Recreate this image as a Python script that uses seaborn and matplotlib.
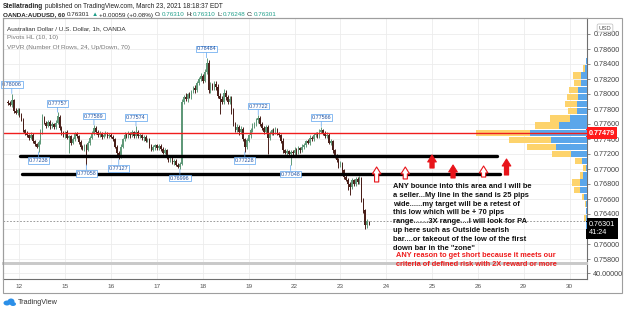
import numpy as np
import pandas as pd
import matplotlib
matplotlib.use("Agg")
import matplotlib.pyplot as plt
import seaborn as sns
from matplotlib.patches import Rectangle, Ellipse

# ---------------- data (prices in pips = 0.0001) ----------------
first_open = 7790
closes = [
    7788, 7786, 7792, 7778, 7775, 7779, 7772, 7766, 7752, 7748,
    7745, 7742, 7746, 7738, 7733, 7730, 7736, 7750, 7768, 7762,
    7758, 7763, 7757, 7760, 7756, 7762, 7770, 7755, 7748, 7745,
    7749, 7742, 7744, 7735, 7740, 7748, 7744, 7736, 7730, 7727,
    7732, 7726, 7735, 7742, 7748, 7755, 7750, 7745, 7748, 7743,
    7746, 7748, 7744, 7746, 7743, 7740, 7730, 7722, 7718, 7730,
    7740, 7746, 7743, 7748, 7745, 7749, 7744, 7750, 7744, 7745,
    7741, 7743, 7738, 7740, 7731, 7726, 7729, 7732, 7728, 7731,
    7727, 7722, 7725, 7716, 7712, 7715, 7709, 7711, 7706, 7703,
    7707, 7790, 7796, 7793, 7800, 7797, 7803, 7808, 7805, 7815,
    7820, 7824, 7818, 7830, 7842, 7805, 7812, 7808, 7814, 7810,
    7798, 7794, 7790, 7802, 7796, 7790, 7794, 7778, 7760, 7752,
    7756, 7750, 7754, 7740, 7730, 7738, 7745, 7752, 7758, 7760,
    7765, 7768, 7760, 7755, 7750, 7756, 7742, 7748, 7752, 7749,
    7753, 7748, 7745, 7738, 7725, 7722, 7724, 7720, 7723, 7721,
    7726, 7722, 7728, 7725, 7730, 7732, 7737, 7735, 7742, 7740,
    7745, 7747, 7744, 7750, 7752, 7748, 7744, 7746, 7735, 7737,
    7725, 7718, 7712, 7705, 7708, 7698, 7690, 7686, 7680, 7676,
    7685, 7680, 7687, 7683, 7688, 7660, 7645, 7625, 7631, 7630.1,
]
wick_hi = [
    2, 3, 8.6, 2, 3, 2, 2, 3, 2, 2,
    3, 2, 3, 2, 1, 2, 3, 4, 6, 3,
    2, 3, 2, 3, 2, 3, 5.7, 2, 2, 3,
    2, 3, 2, 2, 3, 2, 2, 2, 3, 2,
    2, 2, 3, 2, 3, 3.9, 2, 2, 3, 2,
    2, 3, 2, 2, 2, 3, 2, 2, 2, 3,
    2, 3, 2, 3, 2, 3, 2, 7.4, 2, 3,
    2, 3, 2, 2, 2, 2, 3, 2, 2, 3,
    2, 2, 3, 2, 2, 3, 2, 2, 2, 2,
    2, 4, 3, 5, 2, 3, 2, 3, 4, 3,
    3, 4, 3, 4, 6.4, 3, 4, 3, 4, 3,
    3, 4, 3, 5, 3, 3, 4, 3, 3, 3,
    4, 3, 3, 2, 2, 3, 2, 3, 3, 3,
    3, 4.2, 3, 3, 2, 3, 3, 3, 2, 3,
    3, 2, 2, 2, 3, 2, 3, 2, 3, 2,
    3, 2, 3, 2, 3, 3, 2, 3, 3, 2,
    3, 2, 3, 3, 4.6, 2, 3, 3, 2, 3,
    2, 2, 2, 3, 3, 2, 2, 3, 2, 3,
    3, 2, 3, 2, 3, 2, 2, 2, 2, 0,
]
wick_lo = [
    2, 2, 3, 3, 2, 3, 2, 2, 3, 2,
    2, 3, 2, 3, 2, 2, 7.2, 2, 3, 2,
    3, 2, 3, 2, 3, 2, 2, 3, 2, 2,
    3, 2, 20, 3, 2, 2, 3, 2, 3, 2,
    3, 20.2, 2, 3, 2, 2, 3, 2, 2, 3,
    2, 2, 3, 2, 2, 3, 2, 3, 5.3, 3,
    2, 3, 2, 2, 3, 2, 3, 2, 2, 3,
    2, 3, 2, 2, 3, 2, 2, 3, 2, 2,
    3, 2, 2, 3, 2, 3, 2, 3, 2, 2,
    3.4, 2, 3, 2, 3, 2, 3, 2, 3, 2,
    3, 2, 3, 2, 3, 4, 3, 3, 3, 4,
    3, 20, 3, 3, 4, 3, 3, 4, 3, 3,
    3, 4, 3, 3, 7.2, 3, 2, 3, 2, 3,
    2, 3, 2, 3, 3, 2, 22, 3, 2, 3,
    2, 3, 2, 3, 3, 2, 3, 2, 15.2, 3,
    2, 3, 2, 3, 2, 3, 2, 2, 3, 2,
    3, 2, 3, 2, 2, 3, 2, 3, 2, 3,
    3, 3, 2, 3, 2, 3, 3, 2, 8, 11,
    3, 3, 2, 3, 3, 4, 3, 5, 3, 5.3,
]

pivot_hi_bars = [2, 26, 45, 67, 104, 131, 164]
pivot_hi_text = ["0.78006", "0.77757", "0.77589", "0.77574", "0.78484", "0.77722", "0.77566"]
pivot_lo_bars = [16, 41, 58, 90, 124, 148]
pivot_lo_text = ["0.77238", "0.77058", "0.77127", "0.76996", "0.77228", "0.77048"]

day_labels = ["12", "15", "16", "17", "18", "19", "22", "23", "24", "25", "26", "29", "30"]

# VPVR rows, top to bottom
vp_up = [1, 2, 6, 6, 9, 9, 10, 10, 17, 28, 57, 36, 31, 16, 5, 1.5, 4, 7, 7, 3, 1, 1, 1, 1]
vp_down = [0.5, 2, 8, 7, 9, 11, 12, 9, 20, 24, 54, 42, 29, 19, 7, 2.5, 3, 8, 6, 2, 1, 0.5, 2, 0.5]

last_price = 0.76301
poc_price = 0.77479
zone_top = 0.77167
zone_bot = 0.76940

arrow_bars = [193, 208, 222, 233, 249, 261]
arrow_base = [0.76827, 0.76867, 0.77013, 0.76880, 0.76893, 0.76920]
arrow_tip = [0.77027, 0.77027, 0.77187, 0.77053, 0.77040, 0.77133]
arrow_solid = [False, False, True, True, False, True]

note_black = [
    "ANY bounce into this area and I will be",
    "a seller...My line in the sand is 25 pips",
    "wide......my target will be a retest of",
    "this low which will be + 70 pips",
    "range.......3X range....I will look for PA",
    "up here such as Outside bearish",
    "bar....or takeout of the low of the first",
    'down bar in the "zone"',
]
note_red = [
    "ANY reason to get short because it meets our",
    "criteria of defined risk with 2X reward or more",
]

# ---------------- frame ----------------
c = np.array(closes, float) / 1e4
o = np.r_[first_open / 1e4, c[:-1]]
df = pd.DataFrame({"bar": np.arange(len(c)), "open": o, "close": c})
df["high"] = np.maximum(df.open, df.close) + np.array(wick_hi) / 1e4
df["low"] = np.minimum(df.open, df.close) - np.array(wick_lo) / 1e4
df["up"] = df.close >= df.open

sns.set_style("white")
plt.rcParams["font.family"] = ["Liberation Sans", "DejaVu Sans"]

W, H = 625.0, 311.0
fx = lambda x: x / W
fy = lambda y: 1 - y / H

fig = plt.figure(figsize=(6.25, 3.11), dpi=100)
ax = fig.add_axes([fx(3), fy(263), 584 / W, 245 / H])
axl = fig.add_axes([fx(3), fy(279), 584 / W, 15 / H], sharex=ax)

up_col, dn_col = "#5f9878", "#4a1f19"
cols = np.where(df.up, up_col, dn_col)
ax.vlines(df.bar, df.low, df.high, colors=cols, lw=0.7, zorder=3)
ax.bar(df.bar, np.maximum((df.close - df.open).abs(), 0.00002),
       bottom=np.minimum(df.open, df.close), width=0.78, color=cols, lw=0, zorder=3)

day_ticks = 6 + 24 * np.arange(len(day_labels))
yticks = np.arange(0.758, 0.7881, 0.002)
ax.set_xlim(-5 / 1.91, 579 / 1.91)
ax.set_ylim(0.788 - 229 / 7500, 0.788 + 16 / 7500)
ax.set_xticks(day_ticks)
ax.set_yticks(yticks)
# the 0.762 label sits under the last-price tag
ax.set_yticklabels(["" if abs(v - 0.762) < 1e-6 else f"{v:.5f}" for v in yticks])
ax.yaxis.tick_right()
ax.tick_params(axis="x", labelbottom=False, length=0)
ax.tick_params(axis="y", direction="out", length=2, width=0.6, color="#777",
               labelsize=5.2, labelcolor="#444", pad=2.5)
ax.grid(True, color="#ececec", lw=0.6, zorder=0)

for s, sp in ax.spines.items():
    sp.set_color("#9e9e9e")
    sp.set_linewidth(0.8)
ax.spines["right"].set_color("#6f6f6f")
ax.spines["bottom"].set_color("#c9c9c9")
ax.spines["bottom"].set_linewidth(1.4)

# last price / support zone / POC line
ax.axhline(last_price, color="#8a8a8a", lw=0.6, ls=(0, (2, 2)), zorder=2)
sns.lineplot(x=[6.3, 256], y=[zone_top, zone_top], ax=ax, color="black", linewidth=2.4, zorder=4)
sns.lineplot(x=[7.3, 257.5], y=[zone_bot, zone_bot], ax=ax, color="black", linewidth=2.4, zorder=4)

# pivot labels
lab = dict(fontsize=3.9, color="#1d4e9e", ha="center", textcoords="offset points",
           bbox=dict(boxstyle="square,pad=0.15", fc="white", ec="#5aa2ee", lw=0.5),
           arrowprops=dict(arrowstyle="-", color="#5aa2ee", lw=0.5, shrinkA=0, shrinkB=0),
           zorder=6)
for b, t in zip(pivot_hi_bars, pivot_hi_text):
    ax.annotate(t, xy=(b, df.high[b]), xytext=(0, 4.5), va="bottom", **lab)
for b, t in zip(pivot_lo_bars, pivot_lo_text):
    ax.annotate(t, xy=(b, df.low[b]), xytext=(0, -4.5), va="top", **lab)

# red arrows
for b, p0, p1, solid in zip(arrow_bars, arrow_base, arrow_tip, arrow_solid):
    ax.annotate("", xy=(b, p1), xytext=(b, p0),
                arrowprops=dict(arrowstyle="simple,head_width=0.62,head_length=0.5,tail_width=0.3",
                                fc="#e8141a" if solid else "white", ec="#e8141a", lw=0.8,
                                shrinkA=0, shrinkB=0), zorder=7)

# volume profile (VPVR) on a twin axis measured from the right edge
ax2 = ax.twiny()
ax2.set_xlim(584, 0)
ax2.xaxis.set_visible(False)
for sp in ax2.spines.values():
    sp.set_visible(False)
edges = np.linspace(df.low.min(), df.high.max(), len(vp_up) + 1)
centers = ((edges[:-1] + edges[1:]) / 2)[::-1]
rh = (edges[1] - edges[0]) * 0.88
ax2.barh(centers, vp_up, height=rh, left=0, color="#5aa6ea", lw=0, zorder=2)
ax2.barh(centers, vp_down, height=rh, left=vp_up, color="#fdd36c", lw=0, zorder=2)
ax2.axhline(poc_price, color="#f01e1e", lw=1.0, zorder=5)

# price-axis tags
ytr = ax.get_yaxis_transform()
ax.text(1.003, poc_price, "0.77479", transform=ytr, ha="left", va="center", fontsize=5.2,
        color="white", fontweight="bold", clip_on=False, zorder=8,
        bbox=dict(boxstyle="square,pad=0.35", fc="#ff1a1a", ec="none"))
ax.text(1.003, last_price + 0.0001, "0.76301\n41:24", transform=ytr, ha="left", va="top",
        fontsize=5.2, color="white", linespacing=1.35, clip_on=False, zorder=8,
        bbox=dict(boxstyle="square,pad=0.35", fc="black", ec="none"))

# lower pane
axl.set_ylim(20, 70)
axl.set_yticks([40])
axl.set_yticklabels(["40.00000"])
axl.yaxis.tick_right()
axl.set_xticks(day_ticks)
axl.set_xticklabels(day_labels)
axl.tick_params(axis="x", labelsize=4.6, labelcolor="#555", length=2, width=0.6, color="#777", pad=1.5)
axl.tick_params(axis="y", labelsize=5.2, labelcolor="#444", length=2, width=0.6, color="#777", pad=2.5)
axl.grid(True, color="#ececec", lw=0.6)
for s, sp in axl.spines.items():
    sp.set_color("#9e9e9e")
    sp.set_linewidth(0.8)
axl.spines["right"].set_color("#6f6f6f")
axl.spines["bottom"].set_color("#6f6f6f")
axl.spines["top"].set_color("#c9c9c9")
axl.spines["top"].set_linewidth(1.4)

# outer frame
fig.patches.append(Rectangle((fx(3), fy(293)), 619 / W, 275 / H, transform=fig.transFigure,
                             fill=False, ec="#9e9e9e", lw=0.8))
fig.text(fx(605), fy(28), "USD", ha="center", va="center", fontsize=4.3, color="#555",
         bbox=dict(boxstyle="round,pad=0.25", fc="white", ec="#bbbbbb", lw=0.5))

# header
renderer = fig.canvas.get_renderer()


def run_text(x, y, pieces, size):
    for s, col, wt, gap in pieces:
        t = fig.text(fx(x), fy(y), s, color=col, fontsize=size, fontweight=wt, ha="left", va="center")
        x += t.get_window_extent(renderer=renderer).width + gap


teal = "#1f9e89"
dark = "#222222"
run_text(3, 6, [("Stellatrading", dark, "bold", 2),
                ("published on TradingView.com, March 23, 2021 18:18:37 EDT", dark, "normal", 0)], 4.7)
run_text(3, 15, [("OANDA:AUDUSD, 60", dark, "bold", 2), ("0.76301", dark, "normal", 1.5),
                 ("▲", teal, "normal", 1.5), ("+0.00059 (+0.08%)", dark, "normal", 2),
                 ("O:", dark, "normal", 0), ("0.76310", teal, "normal", 2),
                 ("H:", dark, "normal", 0), ("0.76310", teal, "normal", 2),
                 ("L:", dark, "normal", 0), ("0.76248", teal, "normal", 2),
                 ("C:", dark, "normal", 0), ("0.76301", teal, "normal", 0)], 4.5)

fig.text(fx(7), fy(29), "Australian Dollar / U.S. Dollar, 1h, OANDA", fontsize=4.6, color="#333", va="center")
fig.text(fx(7), fy(38), "Pivots HL (10, 10)", fontsize=4.6, color="#777", va="center")
fig.text(fx(7), fy(47), "VPVR (Number Of Rows, 24, Up/Down, 70)", fontsize=4.6, color="#777", va="center")

for k, line in enumerate(note_black):
    fig.text(fx(393), fy(186.5 + 8.8 * k), line, fontsize=5.45, fontweight="bold", color="#111", va="center")
for k, line in enumerate(note_red):
    fig.text(fx(396), fy(255.5 + 9.5 * k), line, fontsize=5.3, fontweight="bold", color="#ee1c1c", va="center")

# TradingView footer
for cx, cy, w, h in [(7, 303, 7, 5), (11, 301.5, 7, 6), (13, 304, 6, 4)]:
    fig.patches.append(Ellipse((fx(cx), fy(cy)), w / W, h / H, transform=fig.transFigure,
                               fc="#2b8fe8", ec="none"))
fig.text(fx(18), fy(302.5), "TradingView", fontsize=5.2, color="#333", va="center")

fig.savefig("out.png", dpi=100)
